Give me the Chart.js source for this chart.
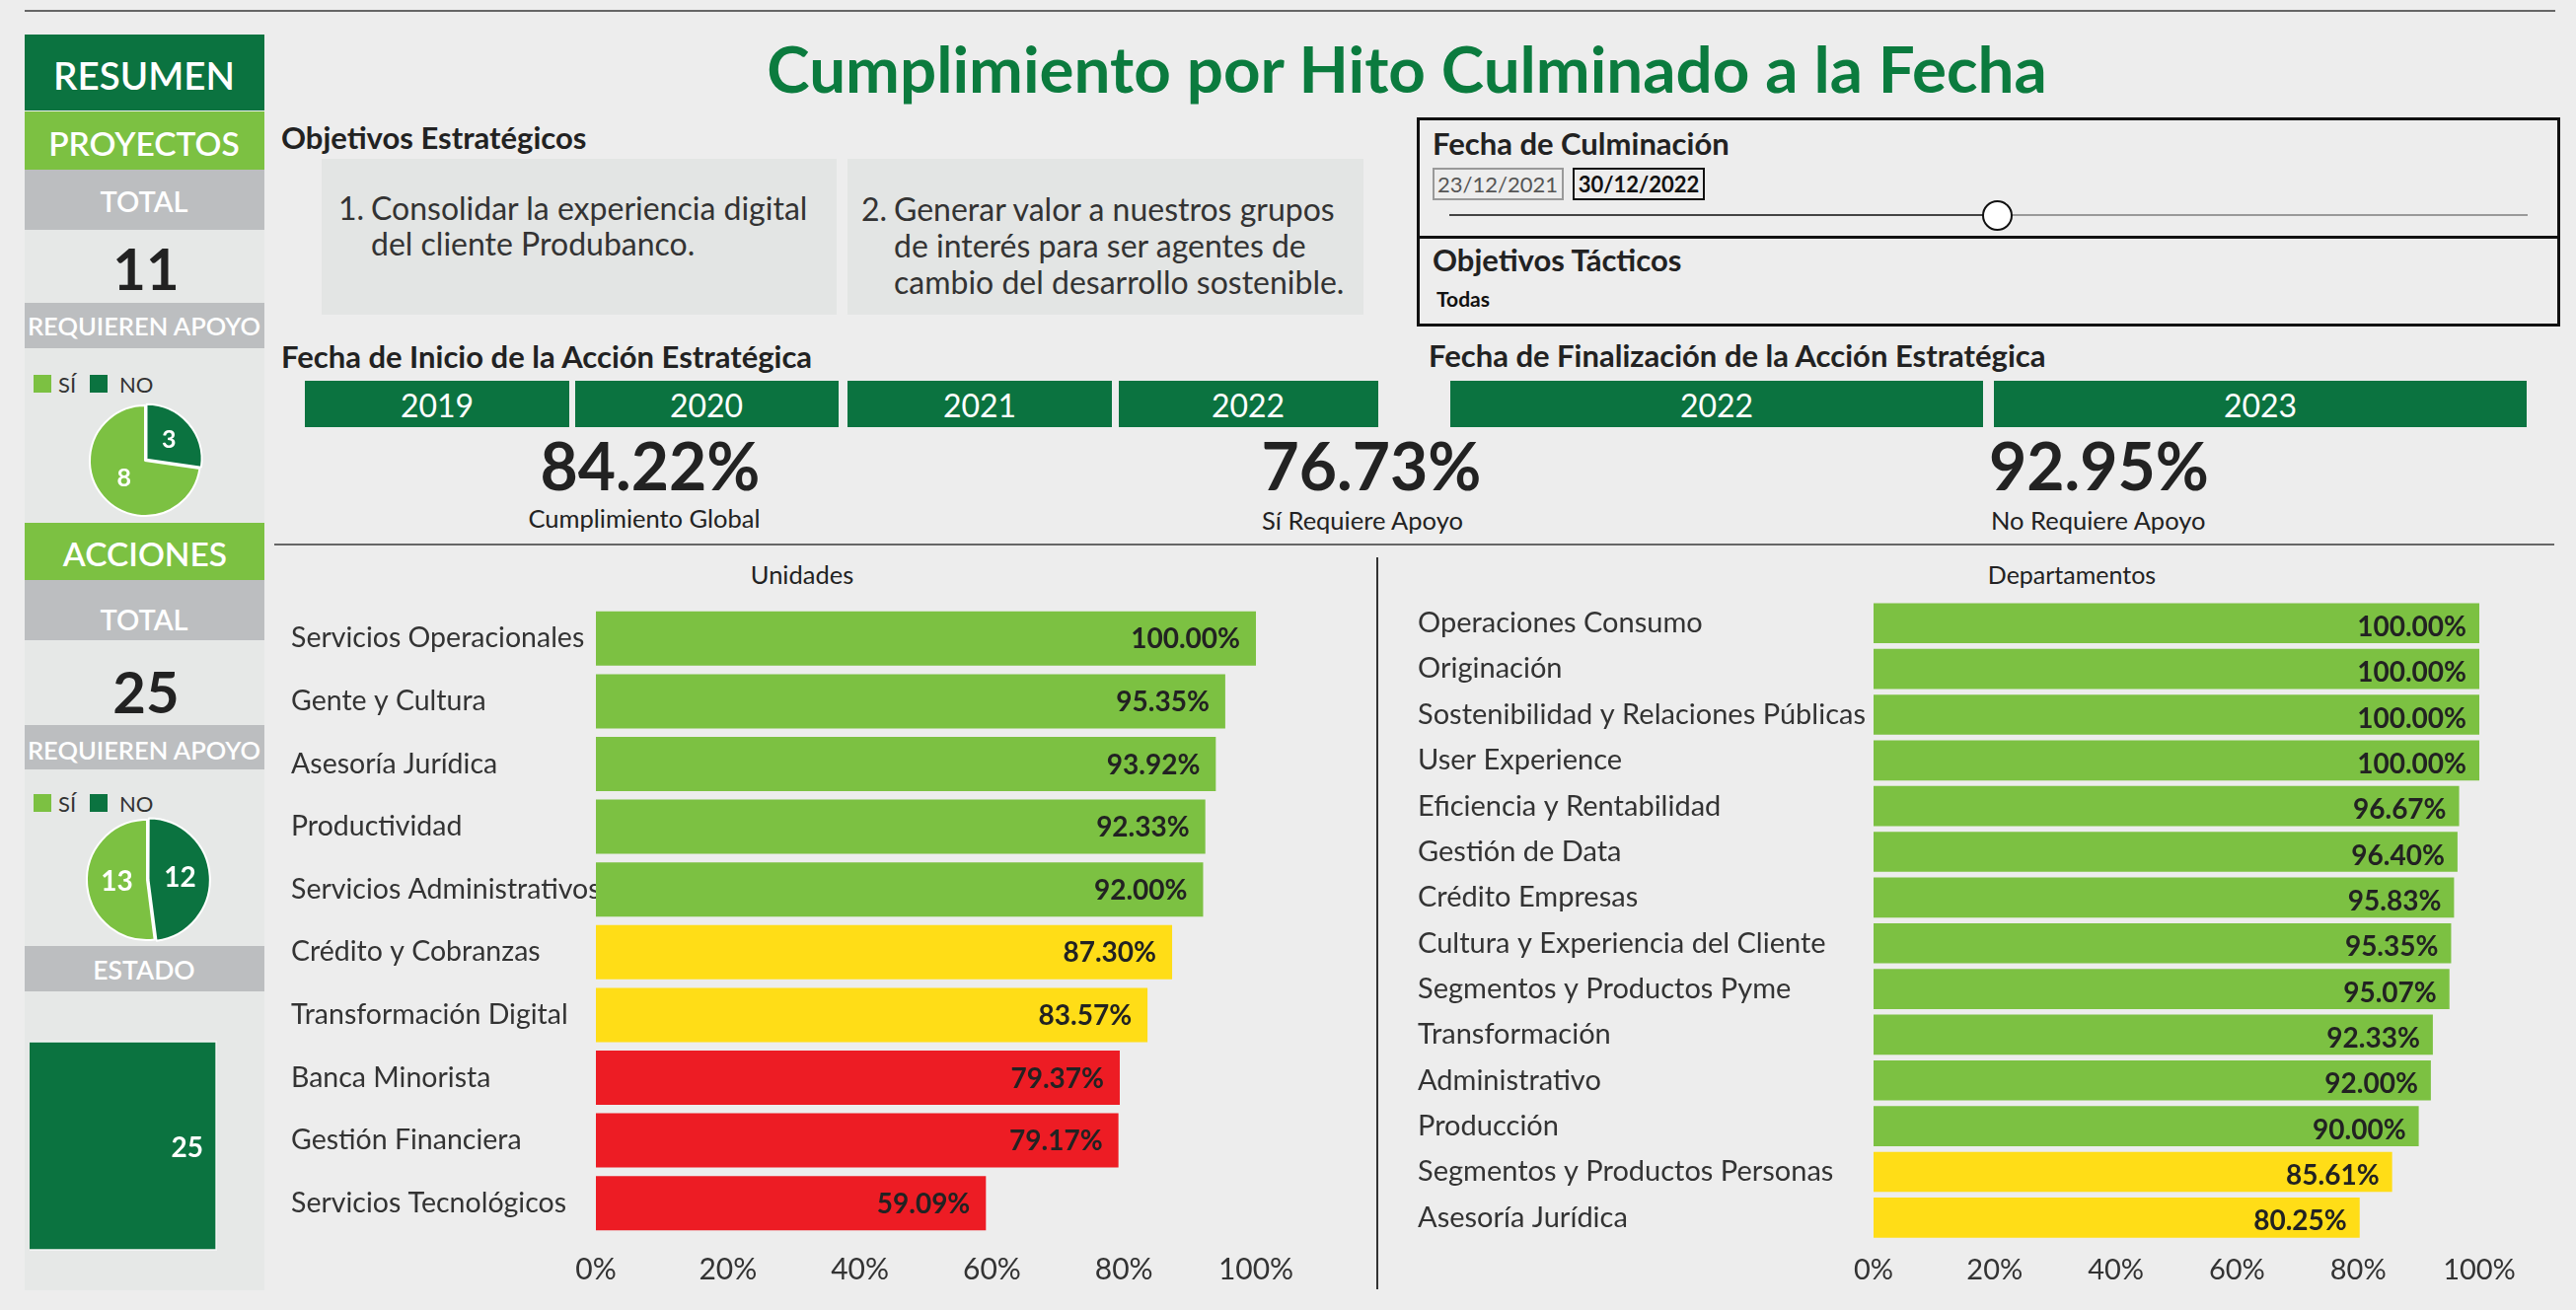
<!DOCTYPE html>
<html lang="es">
<head>
<meta charset="utf-8">
<title>Cumplimiento por Hito Culminado a la Fecha</title>
<script src="https://cdn.jsdelivr.net/npm/chart.js@4.4.1/dist/chart.umd.min.js"></script>
<style>
  html, body { margin:0; padding:0; }
  body { width:2611px; height:1328px; background:#EDEDED; position:relative; overflow:hidden;
         font-family: Lato, "Noto Sans", sans-serif; color:#222; }
  .a { position:absolute; white-space:nowrap; }
  .cc { transform:translate(-50%,-50%); }
  .lc { transform:translate(0,-50%); }
  .box { position:absolute; }
  .dg { background:#0B7340; }
  .lg { background:#7CC142; }
  .gr { background:#BCBEC0; }
  .wt { color:#fff; }
  .b { font-weight:700; }
  canvas { position:absolute; }
</style>
</head>
<body>
<script>
// ---------------- DATA ----------------
const unidadesLabels = ['Servicios Operacionales','Gente y Cultura','Asesoría Jurídica','Productividad',
  'Servicios Administrativos','Crédito y Cobranzas','Transformación Digital','Banca Minorista',
  'Gestión Financiera','Servicios Tecnológicos'];
const unidadesValues = [100.00, 95.35, 93.92, 92.33, 92.00, 87.30, 83.57, 79.37, 79.17, 59.09];

const departamentosLabels = ['Operaciones Consumo','Originación','Sostenibilidad y Relaciones Públicas',
  'User Experience','Eficiencia y Rentabilidad','Gestión de Data','Crédito Empresas',
  'Cultura y Experiencia del Cliente','Segmentos y Productos Pyme','Transformación','Administrativo',
  'Producción','Segmentos y Productos Personas','Asesoría Jurídica'];
const departamentosValues = [100.00, 100.00, 100.00, 100.00, 96.67, 96.40, 95.83, 95.35, 95.07,
  92.33, 92.00, 90.00, 85.61, 80.25];

const percentTicks = [0, 20, 40, 60, 80, 100];

const apoyoLabels = ['NO', 'SÍ'];
const proyectosApoyo = [3, 8];
const accionesApoyo = [12, 13];

const estadoLabels = ['Acciones'];
const estadoValues = [25];
</script>

<!-- top rule -->
<div class="box" style="left:25px;top:10px;width:2565px;height:2px;background:#666;"></div>

<!-- LEFT PANEL -->
<div class="box" style="left:25px;top:233px;width:243px;height:1075px;background:#E6E8E7;"></div>
<div class="box dg" style="left:25px;top:35px;width:243px;height:77px;"></div>
<div class="a cc wt" style="left:146px;top:76px;font-size:38.5px;font-weight:600;">RESUMEN</div>
<div class="box lg" style="left:25px;top:113px;width:243px;height:59px;"></div>
<div class="a cc wt" style="left:146px;top:145px;font-size:33.5px;font-weight:600;">PROYECTOS</div>
<div class="box gr" style="left:25px;top:172px;width:243px;height:61px;"></div>
<div class="a cc wt" style="left:146px;top:203px;font-size:29px;font-weight:600;">TOTAL</div>
<div class="a cc b" style="left:148px;top:271px;font-size:58px;">11</div>
<div class="box gr" style="left:25px;top:307px;width:243px;height:46px;"></div>
<div class="a cc wt" style="left:146px;top:330px;font-size:25.5px;font-weight:600;">REQUIEREN APOYO</div>
<div class="box lg" style="left:34px;top:380px;width:18px;height:18px;"></div>
<div class="a lc" style="left:59px;top:389px;font-size:22px;color:#333;">SÍ</div>
<div class="box dg" style="left:91px;top:380px;width:18px;height:18px;"></div>
<div class="a lc" style="left:121px;top:389px;font-size:22px;color:#333;">NO</div>
<canvas id="pie1" width="122" height="122" style="left:86px;top:406px;width:122px;height:122px;"></canvas>

<div class="box lg" style="left:25px;top:530px;width:243px;height:58px;"></div>
<div class="a cc wt" style="left:147px;top:561px;font-size:33.5px;font-weight:600;">ACCIONES</div>
<div class="box gr" style="left:25px;top:588px;width:243px;height:61px;"></div>
<div class="a cc wt" style="left:146px;top:627px;font-size:29px;font-weight:600;">TOTAL</div>
<div class="a cc b" style="left:148px;top:700px;font-size:58px;">25</div>
<div class="box gr" style="left:25px;top:735px;width:243px;height:45px;"></div>
<div class="a cc wt" style="left:146px;top:760px;font-size:25.5px;font-weight:600;">REQUIEREN APOYO</div>
<div class="box lg" style="left:34px;top:805px;width:18px;height:18px;"></div>
<div class="a lc" style="left:59px;top:814px;font-size:22px;color:#333;">SÍ</div>
<div class="box dg" style="left:91px;top:805px;width:18px;height:18px;"></div>
<div class="a lc" style="left:121px;top:814px;font-size:22px;color:#333;">NO</div>
<canvas id="pie2" width="130" height="130" style="left:84px;top:827px;width:130px;height:130px;"></canvas>
<div class="box gr" style="left:25px;top:959px;width:243px;height:46px;"></div>
<div class="a cc wt" style="left:146px;top:983px;font-size:26.5px;font-weight:600;">ESTADO</div>
<canvas id="estado" width="190" height="213" style="left:30px;top:1055px;width:190px;height:213px;"></canvas>

<!-- TITLE -->
<div class="a cc b" style="left:1426px;top:68px;font-size:65.5px;color:#0B7B3E;">Cumplimiento por Hito Culminado a la Fecha</div>

<!-- Objetivos Estratégicos -->
<div class="a lc b" style="left:285px;top:139px;font-size:31px;">Objetivos Estratégicos</div>
<div class="box" style="left:326px;top:161px;width:522px;height:158px;background:#E3E5E4;"></div>
<div class="box" style="left:859px;top:161px;width:523px;height:158px;background:#E3E5E4;"></div>
<div class="a lc" style="left:343px;top:210px;font-size:32px;color:#333;">1.</div>
<div class="a lc" style="left:376px;top:210px;font-size:32px;color:#333;">Consolidar la experiencia digital</div>
<div class="a lc" style="left:376px;top:246px;font-size:32px;color:#333;">del cliente Produbanco.</div>
<div class="a lc" style="left:873px;top:211px;font-size:32px;color:#333;">2.</div>
<div class="a lc" style="left:906px;top:211px;font-size:32px;color:#333;">Generar valor a nuestros grupos</div>
<div class="a lc" style="left:906px;top:248px;font-size:32px;color:#333;">de interés para ser agentes de</div>
<div class="a lc" style="left:906px;top:285px;font-size:32px;color:#333;">cambio del desarrollo sostenible.</div>

<!-- Filter box -->
<div class="box" style="left:1436px;top:119px;width:1153px;height:206px;border:3px solid #111;"></div>
<div class="box" style="left:1436px;top:239px;width:1159px;height:3px;background:#111;"></div>
<div class="a lc b" style="left:1452px;top:145px;font-size:31px;">Fecha de Culminación</div>
<div class="box" style="left:1452px;top:170px;width:129px;height:29px;border:2px solid #999;"></div>
<div class="a cc" style="left:1518px;top:186px;font-size:22px;color:#555;">23/12/2021</div>
<div class="box" style="left:1594px;top:170px;width:130px;height:29px;border:2px solid #111;"></div>
<div class="a cc" style="left:1661px;top:186px;font-size:22px;color:#111;font-weight:700;">30/12/2022</div>
<div class="box" style="left:1469px;top:217px;width:555px;height:2px;background:#444;"></div>
<div class="box" style="left:2024px;top:217px;width:538px;height:2px;background:#999;"></div>
<div class="box" style="left:2009px;top:203px;width:27px;height:27px;border:2px solid #111;border-radius:50%;background:#fff;"></div>
<div class="a lc b" style="left:1452px;top:263px;font-size:31px;">Objetivos Tácticos</div>
<div class="a lc" style="left:1456px;top:302px;font-size:21px;font-weight:700;color:#111;">Todas</div>

<!-- Fecha inicio -->
<div class="a lc b" style="left:285px;top:361px;font-size:31px;">Fecha de Inicio de la Acción Estratégica</div>
<div class="box dg" style="left:309px;top:386px;width:268px;height:47px;"></div>
<div class="a cc wt" style="left:443px;top:410px;font-size:32px;">2019</div>
<div class="box dg" style="left:583px;top:386px;width:267px;height:47px;"></div>
<div class="a cc wt" style="left:716px;top:410px;font-size:32px;">2020</div>
<div class="box dg" style="left:859px;top:386px;width:268px;height:47px;"></div>
<div class="a cc wt" style="left:993px;top:410px;font-size:32px;">2021</div>
<div class="box dg" style="left:1134px;top:386px;width:263px;height:47px;"></div>
<div class="a cc wt" style="left:1265px;top:410px;font-size:32px;">2022</div>

<!-- Fecha finalización -->
<div class="a lc b" style="left:1448px;top:360px;font-size:31px;">Fecha de Finalización de la Acción Estratégica</div>
<div class="box dg" style="left:1470px;top:386px;width:540px;height:47px;"></div>
<div class="a cc wt" style="left:1740px;top:410px;font-size:32px;">2022</div>
<div class="box dg" style="left:2021px;top:386px;width:540px;height:47px;"></div>
<div class="a cc wt" style="left:2291px;top:410px;font-size:32px;">2023</div>

<!-- KPIs -->
<div class="a cc b" style="left:659px;top:471px;font-size:66px;">84.22%</div>
<div class="a cc" style="left:653px;top:525px;font-size:25.5px;">Cumplimiento Global</div>
<div class="a cc b" style="left:1390px;top:471px;font-size:66px;">76.73%</div>
<div class="a cc" style="left:1381px;top:527px;font-size:25.5px;">Sí Requiere Apoyo</div>
<div class="a lc b" style="left:2016px;top:471px;font-size:66px;">92.95%</div>
<div class="a lc" style="left:2018px;top:527px;font-size:25.5px;">No Requiere Apoyo</div>

<div class="box" style="left:278px;top:551px;width:2311px;height:2px;background:#666;"></div>
<div class="box" style="left:1395px;top:565px;width:2px;height:742px;background:#333;"></div>

<!-- Chart titles -->
<div class="a cc" style="left:813px;top:582px;font-size:25.5px;color:#222;">Unidades</div>
<div class="a cc" style="left:2100px;top:582px;font-size:25px;color:#222;">Departamentos</div>

<canvas id="unidades" width="1040" height="745" style="left:290px;top:565px;width:1040px;height:745px;"></canvas>
<canvas id="departamentos" width="1160" height="750" style="left:1430px;top:560px;width:1160px;height:750px;"></canvas>

<script>
const FONT = 'Lato, "Noto Sans", sans-serif';
const GREEN = '#7CC142', YELLOW = '#FFDD17', RED = '#ED1C24', DARK = '#0B7340';
function statusColor(v) { return v >= 90 ? GREEN : (v >= 80 ? YELLOW : RED); }

function barValueLabels(id, font, pad, dy, fmt) {
  return {
    id,
    afterDatasetsDraw(chart) {
      const ctx = chart.ctx;
      const meta = chart.getDatasetMeta(0);
      const vals = chart.data.datasets[0].data;
      ctx.save();
      ctx.font = font;
      ctx.fillStyle = '#222';
      ctx.textAlign = 'right';
      ctx.textBaseline = 'middle';
      meta.data.forEach((bar, i) => {
        ctx.fillText(fmt(vals[i]), bar.x - pad, bar.y + dy);
      });
      ctx.restore();
    }
  };
}

function pctBar(canvasId, labels, values, cfg) {
  new Chart(document.getElementById(canvasId), {
    type: 'bar',
    data: {
      labels,
      datasets: [{
        data: values,
        backgroundColor: values.map(statusColor),
        borderWidth: 0,
        barPercentage: cfg.barPct,
        categoryPercentage: 1
      }]
    },
    options: {
      indexAxis: 'y',
      responsive: false,
      animation: false,
      events: [],
      layout: { padding: cfg.padding },
      plugins: { legend: { display: false }, tooltip: { enabled: false }, title: { display: false } },
      scales: {
        x: {
          min: 0, max: 100,
          afterBuildTicks: (s) => { s.ticks = percentTicks.map(v => ({ value: v })); },
          grid: { display: false, drawTicks: false },
          border: { display: false },
          ticks: { padding: cfg.xPad, color: '#333', font: { family: FONT, size: cfg.tickSize },
                   callback: (v) => v + '%' },
          afterFit: (s) => { s.height = cfg.xHeight; }
        },
        y: {
          grid: { display: false, drawTicks: false },
          border: { display: false },
          ticks: { crossAlign: 'far', padding: 0, color: '#333', font: { family: FONT, size: cfg.labelSize } },
          afterFit: (s) => { s.width = cfg.yWidth; }
        }
      }
    },
    plugins: [barValueLabels(canvasId + 'Labels', '700 28px ' + FONT, cfg.labelPad, cfg.labelDy,
      (v) => v.toFixed(2) + '%')]
  });
}

pctBar('unidades', unidadesLabels, unidadesValues, {
  barPct: 0.865,
  padding: { left: 5, right: 57, top: 50.5, bottom: 0 },
  xHeight: 58.5, xPad: 18, yWidth: 309, labelPad: 16, labelDy: 1,
  tickSize: 30, labelSize: 28.5
});

pctBar('departamentos', departamentosLabels, departamentosValues, {
  barPct: 0.878,
  padding: { left: 7, right: 77, top: 48.6, bottom: 0 },
  xHeight: 52.5, xPad: 13, yWidth: 462, labelPad: 13, labelDy: 4,
  tickSize: 29, labelSize: 29
});

function pieLabels(id, font) {
  return {
    id,
    afterDatasetsDraw(chart) {
      const ctx = chart.ctx;
      const meta = chart.getDatasetMeta(0);
      const vals = chart.data.datasets[0].data;
      ctx.save();
      ctx.font = font;
      ctx.fillStyle = '#fff';
      ctx.textAlign = 'center';
      ctx.textBaseline = 'middle';
      meta.data.forEach((arc, i) => {
        const p = arc.tooltipPosition();
        ctx.fillText(String(vals[i]), p.x, p.y);
      });
      ctx.restore();
    }
  };
}

function apoyoPie(canvasId, values, offset, font) {
  new Chart(document.getElementById(canvasId), {
    type: 'pie',
    data: {
      labels: apoyoLabels,
      datasets: [{
        data: values,
        backgroundColor: [DARK, GREEN],
        borderColor: '#FFFFFF',
        borderWidth: 2,
        offset: [offset, 0]
      }]
    },
    options: {
      responsive: false,
      animation: false,
      events: [],
      layout: { padding: 0 },
      plugins: { legend: { display: false }, tooltip: { enabled: false } }
    },
    plugins: [pieLabels(canvasId + 'Labels', font)]
  });
}

apoyoPie('pie1', proyectosApoyo, 8, '700 25px ' + FONT);
apoyoPie('pie2', accionesApoyo, 6, '700 28px ' + FONT);

new Chart(document.getElementById('estado'), {
  type: 'bar',
  data: {
    labels: estadoLabels,
    datasets: [{
      data: estadoValues,
      backgroundColor: DARK,
      borderColor: '#F4F4F4',
      borderWidth: 2,
      barPercentage: 1,
      categoryPercentage: 1
    }]
  },
  options: {
    indexAxis: 'y',
    responsive: false,
    animation: false,
    events: [],
    layout: { padding: 0 },
    plugins: { legend: { display: false }, tooltip: { enabled: false } },
    scales: {
      x: { display: false, min: 0, max: estadoValues[0] },
      y: { display: false }
    }
  },
  plugins: [{
    id: 'estadoLabel',
    afterDatasetsDraw(chart) {
      const ctx = chart.ctx;
      const bar = chart.getDatasetMeta(0).data[0];
      ctx.save();
      ctx.font = '700 28px ' + FONT;
      ctx.fillStyle = '#fff';
      ctx.textAlign = 'right';
      ctx.textBaseline = 'middle';
      ctx.fillText(String(chart.data.datasets[0].data[0]), bar.x - 14, bar.y + 2);
      ctx.restore();
    }
  }]
});
</script>
</body>
</html>
